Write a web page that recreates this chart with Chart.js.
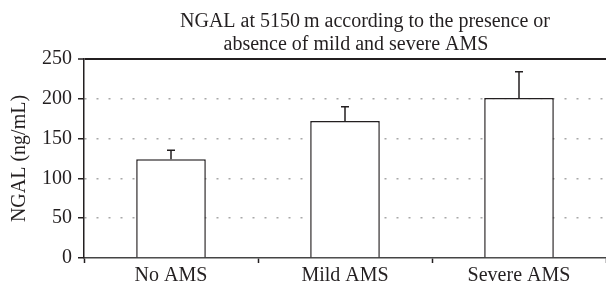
<!DOCTYPE html>
<html>
<head>
<meta charset="utf-8">
<script src="https://cdn.jsdelivr.net/npm/chart.js@4"></script>
<style>
  html, body { margin: 0; padding: 0; background: #fff; }
  #wrap { width: 606px; height: 287px; }
</style>
</head>
<body>
<div id="wrap"><canvas id="c" width="606" height="287"></canvas></div>
<script>
// values
const groups = ['No AMS', 'Mild AMS', 'Severe AMS'];
const ngalMean = [124, 172, 201];
const ngalErrTop = [135.5, 190, 234];
const yTicks = [0, 50, 100, 150, 200, 250];
const titleLines = ['NGAL at 5150\u2009m according to the presence or', 'absence of mild and severe AMS'];

const ink = '#231f20';
const serif = "'Liberation Serif', 'Times New Roman', serif";

// upper error bars with a small cap
const errorBars = {
  id: 'errorBars',
  afterDatasetsDraw(chart) {
    const ctx = chart.ctx;
    const meta = chart.getDatasetMeta(0);
    const y = chart.scales.y;
    ctx.save();
    ctx.strokeStyle = ink;
    ctx.lineWidth = 1.5;
    meta.data.forEach((bar, i) => {
      const top = y.getPixelForValue(ngalErrTop[i]);
      ctx.beginPath();
      ctx.moveTo(bar.x, bar.y);
      ctx.lineTo(bar.x, top);
      ctx.moveTo(bar.x - 4, top);
      ctx.lineTo(bar.x + 4, top);
      ctx.stroke();
    });
    ctx.restore();
  }
};

// title sits a bit right of centre in the original
const titlePlugin = {
  id: 'offTitle',
  afterDraw(chart) {
    const ctx = chart.ctx;
    const a = chart.chartArea;
    ctx.save();
    ctx.fillStyle = ink;
    ctx.font = '20px ' + serif;
    ctx.textAlign = 'center';
    ctx.textBaseline = 'alphabetic';
    ctx.fillText(titleLines[0], a.left + 281, 27);
    ctx.fillText(titleLines[1], a.left + 272, 50);
    ctx.restore();
  }
};

new Chart(document.getElementById('c'), {
  type: 'bar',
  data: {
    labels: groups,
    datasets: [{
      data: ngalMean,
      backgroundColor: '#ffffff',
      borderColor: ink,
      borderWidth: 1.5,
      barPercentage: 0.4,
      categoryPercentage: 1.0
    }]
  },
  options: {
    responsive: false,
    animation: false,
    layout: { padding: { top: 59, right: 0, bottom: 0, left: 0 } },
    plugins: {
      legend: { display: false },
      tooltip: { enabled: false },
      title: { display: false }
    },
    scales: {
      x: {
        grid: {
          offset: true,
          drawOnChartArea: false,
          tickLength: 5,
          tickColor: ink,
          tickWidth: 1.5
        },
        border: { color: '#444', width: 1.5 },
        ticks: { color: ink, font: { family: serif, size: 20 }, padding: 1 },
        afterFit(s) { s.height = 29; }
      },
      y: {
        min: 0,
        max: 250,
        afterBuildTicks(s) { s.ticks = yTicks.map(v => ({ value: v })); },
        grid: {
          color: c => c.tick && c.tick.value === 250 ? ink : (c.tick && c.tick.value === 0 ? 'rgba(0,0,0,0)' : '#a8a8a8'),
          lineWidth: c => c.tick && c.tick.value === 250 ? 2 : 1.5,
          tickLength: 6,
          tickColor: ink,
          tickWidth: 1.5
        },
        border: {
          color: ink,
          width: 1.5,
          dash: c => c.tick && c.tick.value === 250 ? [] : [2, 10]
        },
        ticks: { color: ink, font: { family: serif, size: 20 }, padding: 6 },
        title: {
          display: true,
          text: 'NGAL (ng/mL)',
          color: ink,
          font: { family: serif, size: 20 },
          padding: { top: 8, bottom: 0 }
        },
        afterFit(s) { s.width = 84; }
      }
    }
  },
  plugins: [errorBars, titlePlugin]
});
</script>
</body>
</html>
